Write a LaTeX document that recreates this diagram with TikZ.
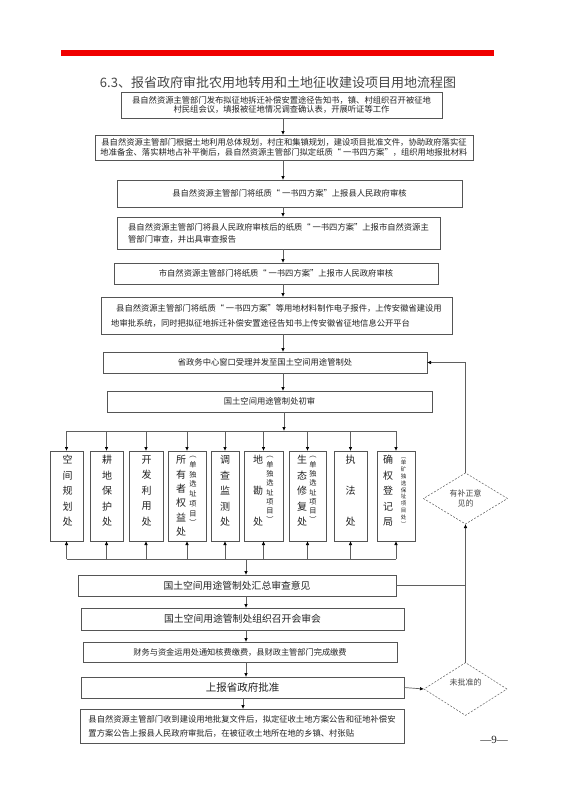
\documentclass[tikz,border=0pt]{standalone}
\usepackage{fontspec}
\setmainfont{Noto Sans CJK SC}
\newfontfamily\latinserif{Liberation Serif}
\usetikzlibrary{arrows.meta,shapes.geometric}
\definecolor{boxgray}{RGB}{85,85,85}
\definecolor{lngray}{RGB}{95,95,95}
\definecolor{txt}{RGB}{35,35,35}
\definecolor{titlegray}{RGB}{70,70,70}
\definecolor{barred}{RGB}{240,0,0}
\newcommand\fs[2]{\fontsize{#1}{#2}\selectfont}
\begin{document}
\begin{tikzpicture}[x=1pt,y=-1pt,
  box/.style={draw=boxgray, line width=0.7pt, inner sep=0pt, outer sep=0pt, text=txt, align=center, font=\fs{8.3}{9.8}},
  col/.style={draw=boxgray, line width=0.7pt, inner sep=0pt, outer sep=0pt, minimum height=90pt},
  vt/.style={inner sep=0pt, outer sep=0pt, align=center, text=txt, anchor=north},
  dia/.style={diamond, draw=lngray, line width=0.5pt, dash pattern=on 2pt off 1.5pt, inner sep=0pt, outer sep=0pt, text=titlegray, align=center, font=\fs{8}{10}},
  ln/.style={draw=lngray, line width=0.7pt},
  ar/.style={draw=lngray, line width=0.7pt, -{Latex[length=4pt,width=3.5pt,color=black]}}]
\fill[white] (0,0) rectangle (562,795);
\path[use as bounding box] (0,0) rectangle (562,795);
\fill[barred] (61,50) rectangle (494,56);
\node[font=\fs{13}{13}, text=titlegray, inner sep=0pt] (T) at (278,83) {6.3、报省政府审批农用地转用和土地征收建设项目用地流程图};

\node[box, minimum width=321pt, minimum height=26pt] (B1) at (281.5,105) {县自然资源主管部门发布拟征地拆迁补偿安置途径告知书，镇、村组织召开被征地\\村民组会议，填报被征地情况调查确认表，开展听证等工作};
\node[box, minimum width=378pt, minimum height=25pt] (B2) at (284,147.5) {县自然资源主管部门根据土地利用总体规划，村庄和集镇规划，建设项目批准文件，协助政府落实征\\地准备金、落实耕地占补平衡后，县自然资源主管部门拟定纸质“ 一书四方案”，组织用地报批材料};
\node[box, minimum width=345pt, minimum height=27pt] (B3) at (289.5,193.5) {县自然资源主管部门将纸质“ 一书四方案”上报县人民政府审核};
\node[box, minimum width=323pt, minimum height=32pt, align=left, font=\fs{8.3}{12}] (B4) at (278.5,233) {县自然资源主管部门将县人民政府审核后的纸质“ 一书四方案”上报市自然资源主\\管部门审查，并出具审查报告};
\node[box, minimum width=324pt, minimum height=21pt] (B5) at (276,273.5) {市自然资源主管部门将纸质“ 一书四方案”上报市人民政府审核};
\node[box, minimum width=351pt, minimum height=37pt, align=left, font=\fs{8.3}{15}] (B6) at (276.5,315.5) {\hspace{5pt}县自然资源主管部门将纸质“ 一书四方案”等用地材料制作电子报件，上传安徽省建设用\\地审批系统，同时把拟征地拆迁补偿安置途径告知书上传安徽省征地信息公开平台};
\node[box, minimum width=324pt, minimum height=21pt] (B7) at (265,362.5) {省政务中心窗口受理并发至国土空间用途管制处};
\node[box, minimum width=325pt, minimum height=21pt] (B8) at (269.5,401.5) {国土空间用途管制处初审};

\node[col, minimum width=33pt] (C1) at (66.5,496) {};
\node[col, minimum width=33pt] (C2) at (106.5,496) {};
\node[col, minimum width=34pt] (C3) at (146,496) {};
\node[col, minimum width=38pt] (C4) at (187,496) {};
\node[col, minimum width=28pt] (C5) at (225,496) {};
\node[col, minimum width=39pt] (C6) at (263.5,496) {};
\node[col, minimum width=37pt] (C7) at (307.5,496) {};
\node[col, minimum width=33pt] (C8) at (350.5,496) {};
\node[col, minimum width=38pt] (C9) at (396,496) {};

\node[vt, font=\fs{10}{15.5}] (C1t) at (67.5,455.5) {空\\间\\规\\划\\处};
\node[vt, font=\fs{10}{15.5}] (C2t) at (107,455.5) {耕\\地\\保\\护\\处};
\node[vt, font=\fs{10}{15.5}] (C3t) at (146.5,455.5) {开\\发\\利\\用\\处};
\node[vt, font=\fs{10}{14.4}] (C4t) at (181,455.5) {所\\有\\者\\权\\益\\处};
\node[vt, font=\fs{7.2}{9.7}] (C4s) at (193,456.5) {︵\\单\\独\\选\\址\\项\\目\\︶};
\node[vt, font=\fs{10}{15.5}] (C5t) at (225,455.5) {调\\查\\监\\测\\处};
\node[vt, font=\fs{10}{31}] (C6t) at (258,455.5) {地\\勘\\处};
\node[vt, font=\fs{7.2}{9.3}] (C6s) at (270,456.5) {︵\\单\\独\\选\\址\\项\\目\\︶};
\node[vt, font=\fs{10}{15.5}] (C7t) at (302,455.5) {生\\态\\修\\复\\处};
\node[vt, font=\fs{7.2}{9.3}] (C7s) at (313,456.5) {︵\\单\\独\\选\\址\\项\\目\\︶};
\node[vt, font=\fs{10}{31}] (C8t) at (350.5,455.5) {执\\法\\处};
\node[vt, font=\fs{10}{15.5}] (C9t) at (388,455.5) {确\\权\\登\\记\\局};
\node[vt, font=\fs{5.5}{6.8}] (C9s) at (403.5,457) {︵\\单\\矿\\独\\选\\保\\址\\项\\目\\处\\︶};

\node[box, minimum width=318pt, minimum height=21pt, font=\fs{9.8}{11}] (B9) at (237,585.5) {国土空间用途管制处汇总审查意见};
\node[box, minimum width=323pt, minimum height=22pt, font=\fs{9.8}{11}] (B10) at (242.5,619) {国土空间用途管制处组织召开会审会};
\node[box, minimum width=314pt, minimum height=20pt, font=\fs{8.2}{10}] (B11) at (240,652) {财务与资金运用处通知核费缴费，县财政主管部门完成缴费};
\node[box, minimum width=323pt, minimum height=21pt, font=\fs{10.5}{12}] (B12) at (242.5,687.5) {上报省政府批准};
\node[box, minimum width=324pt, minimum height=34pt, align=left, font=\fs{8.3}{14}] (B13) at (242,726) {县自然资源主管部门收到建设用地批复文件后，拟定征收土地方案公告和征地补偿安\\置方案公告上报县人民政府审批后，在被征收土地所在地的乡镇、村张贴};

\node[dia, minimum width=84pt, minimum height=51pt] (D1) at (465.5,498.5) {有补正意\\见的};
\node[dia, minimum width=83pt, minimum height=52pt] (D2) at (465.5,689) {未批准的\\[4pt]};

\node[font=\latinserif\fs{11}{11}, text=txt, inner sep=0pt] (pg) at (494,740) {—9—};

% main spine
\coordinate (sp) at (283,0);
\draw[ar] (B1.south -| sp) -- (B2.north -| sp);
\draw[ar] (B2.south -| sp) -- (B3.north -| sp);
\draw[ar] (B3.south -| sp) -- (B4.north -| sp);
\draw[ar] (B4.south -| sp) -- (B5.north -| sp);
\draw[ar] (B5.south -| sp) -- (B6.north -| sp);
\draw[ar] (B6.south -| sp) -- (B7.north -| sp);
\draw[ar] (B7.south -| sp) -- (B8.north -| sp);

% distribution bus
\coordinate (bus1) at (284,431);
\draw[ar] (B8.south -| bus1) -- (bus1);
\draw[ln] (C1.north |- bus1) -- (C9.north |- bus1);
\foreach \c in {C1,C2,C3,C4,C5,C6,C7,C8,C9} {
  \draw[ar] (\c.north |- bus1) -- (\c.north);
}
% collection bus
\coordinate (bus2) at (246,559);
\draw[ln] (C1.south |- bus2) -- (C9.south |- bus2);
\foreach \c in {C1,C2,C3,C4,C5,C6,C7,C8,C9} {
  \draw[ar] (\c.south |- bus2) -- (\c.south);
}
\draw[ar] (bus2) -- (B9.north -| bus2);

\coordinate (sp2) at (246,0);
\draw[ar] (B9.south -| sp2) -- (B10.north -| sp2);
\draw[ar] (B10.south -| sp2) -- (B11.north -| sp2);
\draw[ar] (B11.south -| sp2) -- (B12.north -| sp2);
\coordinate (sp3) at (243,0);
\draw[ar] (B12.south -| sp3) -- (B13.north -| sp3);

% feedback
\draw[ln] (B9.east) -- (B9.east -| D1.south);
\draw[ar] (D2.north) -- (D1.south);
\draw[ar] (D1.north) |- (B7.east);
\draw[ar] (B12.east) -- (D2.west);
\end{tikzpicture}
\end{document}
